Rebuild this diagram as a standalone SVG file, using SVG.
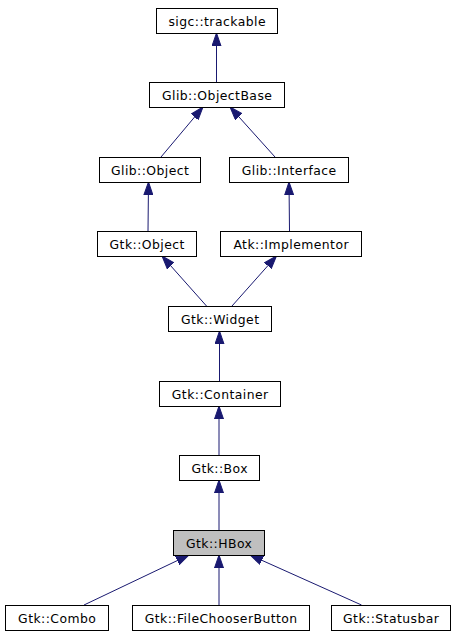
<svg xmlns="http://www.w3.org/2000/svg" width="456" height="635" viewBox="0 0 456 635">
<style>
  .n rect { fill: #ffffff; stroke: #000000; stroke-width: 1; }
  .n.cur rect { fill: #bfbfbf; }
  .n text { font-family: "DejaVu Sans", "Liberation Sans", sans-serif; font-size: 12.4px; letter-spacing: 0.45px; fill: #000000; text-anchor: middle; }
  .e line { stroke: #191970; stroke-width: 1; fill: none; marker-end: url(#arr); }
</style>
<defs>
  <marker id="arr" viewBox="0 -5 14 10" refX="13" refY="0" markerWidth="14" markerHeight="10" markerUnits="userSpaceOnUse" orient="auto">
    <path d="M0,-4.5 L13,0 L0,4.5 z" fill="#191970" stroke="#191970" stroke-width="1"/>
  </marker>
</defs>
<rect width="456" height="635" fill="#ffffff"/>
<g id="connectors" class="e">
  <line x1="216.5" y1="82" x2="216.5" y2="33"/>
  <line x1="161" y1="157" x2="203" y2="107"/>
  <line x1="275" y1="157" x2="230" y2="107"/>
  <line x1="148" y1="231" x2="148.5" y2="182"/>
  <line x1="289.5" y1="231" x2="289" y2="182"/>
  <line x1="206.5" y1="306" x2="162" y2="256"/>
  <line x1="232" y1="306" x2="276.5" y2="256"/>
  <line x1="219.5" y1="381" x2="219.5" y2="331"/>
  <line x1="219" y1="455" x2="219" y2="406"/>
  <line x1="219" y1="530" x2="219" y2="480"/>
  <line x1="84" y1="605" x2="189" y2="555"/>
  <line x1="219" y1="605" x2="219" y2="555"/>
  <line x1="361.5" y1="605" x2="250" y2="555"/>
</g>
<g id="sigc_trackable" class="n"><rect x="156.5" y="8.5" width="121" height="25"/><text x="217.2" y="25.5">sigc::trackable</text></g>
<g id="Glib_ObjectBase" class="n"><rect x="149.5" y="82.5" width="135" height="25"/><text x="217.2" y="99.5">Glib::ObjectBase</text></g>
<g id="Glib_Object" class="n"><rect x="99.5" y="157.5" width="101" height="25"/><text x="150.2" y="174.5">Glib::Object</text></g>
<g id="Glib_Interface" class="n"><rect x="229.5" y="157.5" width="119" height="25"/><text x="289.2" y="174.5">Glib::Interface</text></g>
<g id="Gtk_Object" class="n"><rect x="97.5" y="231.5" width="99" height="25"/><text x="147.2" y="248.5">Gtk::Object</text></g>
<g id="Atk_Implementor" class="n"><rect x="220.5" y="231.5" width="141" height="25"/><text x="291.2" y="248.5">Atk::Implementor</text></g>
<g id="Gtk_Widget" class="n"><rect x="168.5" y="306.5" width="103" height="25"/><text x="220.2" y="323.5">Gtk::Widget</text></g>
<g id="Gtk_Container" class="n"><rect x="159.5" y="381.5" width="121" height="25"/><text x="220.2" y="398.5">Gtk::Container</text></g>
<g id="Gtk_Box" class="n"><rect x="179.5" y="455.5" width="80" height="25"/><text x="219.7" y="472.5">Gtk::Box</text></g>
<g id="Gtk_HBox" class="n cur"><rect x="173.5" y="530.5" width="91" height="25"/><text x="219.2" y="547.5">Gtk::HBox</text></g>
<g id="Gtk_Combo" class="n"><rect x="5.5" y="605.5" width="103" height="25"/><text x="57.2" y="622.5">Gtk::Combo</text></g>
<g id="Gtk_FileChooserButton" class="n"><rect x="132.5" y="605.5" width="177" height="25"/><text x="221.2" y="622.5">Gtk::FileChooserButton</text></g>
<g id="Gtk_Statusbar" class="n"><rect x="331.5" y="605.5" width="119" height="25"/><text x="391.2" y="622.5">Gtk::Statusbar</text></g>
</svg>
